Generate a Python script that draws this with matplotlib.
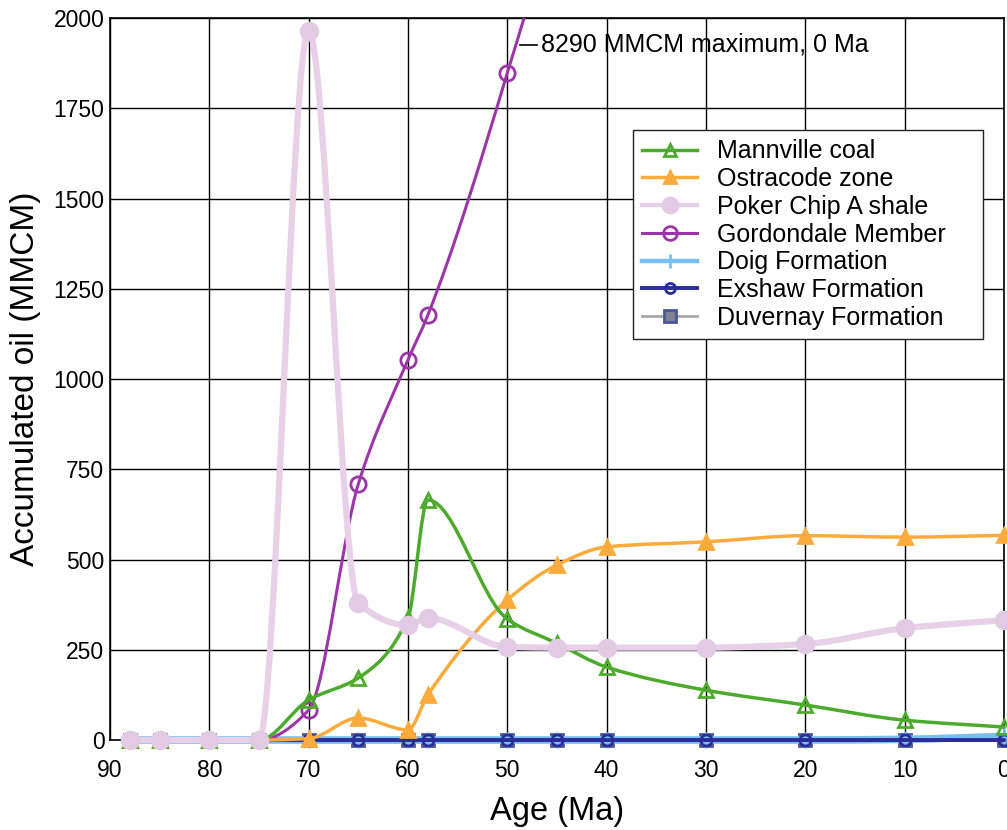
import numpy as np
import matplotlib
matplotlib.use("Agg")
import matplotlib.pyplot as plt
from matplotlib.path import Path
from matplotlib.patches import PathPatch, Rectangle
from matplotlib.lines import Line2D

plt.rcParams['font.family'] = ['Liberation Sans', 'DejaVu Sans']

# ages (Ma) at which each series is sampled
age = [88, 85, 80, 75, 70, 65, 60, 58, 50, 45, 40, 30, 20, 10, 0]

mannville = [0, 0, 0, 0, 111, 172, 338, 665, 335, 268, 202, 138, 97, 55, 36]
ostracode = [0, 0, 0, 0, 4, 61, 28, 125, 388, 485, 535, 549, 566, 562, 567]
poker_chip = [0, 0, 0, 0, 1965, 379, 318, 338, 258, 256, 256, 256, 266, 310, 332]
gordondale = [0, 0, 0, 0, 83, 709, 1053, 1177, 1848, 2350, 3300, 4800, 6300, 7500, 8290]
doig = [0, 0, 0, 0, 0, 0, 0, 0, 0, 0, 0, 0, 0, 2, 10]
exshaw = [0, 0, 0, 0, 0, 0, 0, 0, 0, 0, 0, 0, 0, 0, 0]
duvernay = [0, 0, 0, 0, 0, 0, 0, 0, 0, 0, 0, 0, 0, 0, 0]

note = "8290 MMCM maximum, 0 Ma"


def smooth_path(xs, ys):
    # smoothed line through the points: cubic bezier segments with
    # monotone (pchip-like) tangents so the curve doesn't overshoot
    x = np.asarray(xs, float)
    y = np.asarray(ys, float)
    n = len(x)
    h = np.diff(x)
    d = np.diff(y) / h
    m = np.zeros(n)
    m[0], m[-1] = d[0], d[-1]
    for k in range(1, n - 1):
        if d[k - 1] * d[k] > 0:
            w1 = 2 * h[k] + h[k - 1]
            w2 = h[k] + 2 * h[k - 1]
            m[k] = (w1 + w2) / (w1 / d[k - 1] + w2 / d[k])
    verts = [(x[0], y[0])]
    codes = [Path.MOVETO]
    for k in range(n - 1):
        verts += [(x[k] + h[k] / 3, y[k] + m[k] * h[k] / 3),
                  (x[k + 1] - h[k] / 3, y[k + 1] - m[k + 1] * h[k] / 3),
                  (x[k + 1], y[k + 1])]
        codes += [Path.CURVE4] * 3
    return Path(verts, codes)


fig = plt.figure(figsize=(10.07, 8.30), dpi=100)
ax = fig.add_axes([0.1092, 0.1084, 0.8878, 0.8699])
ax.set_xlim(90, 0)
ax.set_ylim(0, 2000)

# clip at the top of the plot but let the zero lines show full width
clip = Rectangle((-0.01, -0.05), 1.02, 1.05, transform=ax.transAxes,
                 facecolor='none', edgecolor='none')
ax.add_patch(clip)

series = [
    # name, values, color, lw, marker, ms, face, edge
    ("Duvernay Formation", duvernay, '#a8a8a8', 2.0, 's', 9, '#7e8494', '#4a5a9a'),
    ("Doig Formation", doig, '#78bff0', 5.5, '+', 11, '#78bff0', '#78bff0'),
    ("Exshaw Formation", exshaw, '#2b2c98', 2.8, 'o', 8, 'none', '#2b2c98'),
    ("Gordondale Member", gordondale, '#9b36a8', 2.2, 'o', 11, 'none', '#9b36a8'),
    ("Ostracode zone", ostracode, '#fbab3c', 2.5, '^', 10, '#fbab3c', '#fbab3c'),
    ("Mannville coal", mannville, '#4cab2c', 2.5, '^', 10, 'none', '#4cab2c'),
    ("Poker Chip A shale", poker_chip, '#e7d0e8', 4.5, 'o', 12, '#e2cae4', '#e2cae4'),
]

handles = {}
for z, (name, vals, col, lw, mk, ms, fc, ec) in enumerate(series):
    patch = PathPatch(smooth_path(age, vals), facecolor='none', edgecolor=col,
                      lw=lw, zorder=3 + z, capstyle='round', joinstyle='round')
    ax.add_patch(patch)
    patch.set_clip_path(clip)
    pts = [(a, v) for a, v in zip(age, vals) if v <= 2000]
    ax.plot([a for a, v in pts], [v for a, v in pts], linestyle='none',
            marker=mk, ms=ms, mfc=fc, mec=ec, mew=2, zorder=3.5 + z,
            clip_on=False)
    handles[name] = Line2D([], [], color=col, lw=min(lw, 3.2), marker=mk,
                           ms=ms * 0.9, mfc=fc, mec=ec, mew=2)

order = ["Mannville coal", "Ostracode zone", "Poker Chip A shale",
         "Gordondale Member", "Doig Formation", "Exshaw Formation",
         "Duvernay Formation"]
leg = ax.legend([handles[k] for k in order], order, loc='upper left',
                bbox_to_anchor=(0.585, 0.0, 0.3915, 0.845), mode='expand',
                fontsize=18, frameon=True,
                fancybox=False, framealpha=1, edgecolor='#222222',
                handlelength=2.2, handletextpad=0.8, labelspacing=0.15,
                borderpad=0.38, borderaxespad=0)
leg.get_frame().set_linewidth(1.0)
leg.set_zorder(20)

# leader line and note for the Gordondale maximum
ax.plot([48.75, 47.0], [1926, 1926], color='black', lw=1.2, zorder=12)
ax.text(46.6, 1926, note, fontsize=18, va='center', ha='left', zorder=12)

ax.set_xticks(np.arange(90, -1, -10))
ax.set_yticks(np.arange(0, 2001, 250))
ax.grid(True, color='black', lw=1.0)
ax.set_axisbelow(True)
ax.tick_params(length=0, labelsize=16.5)
ax.tick_params(axis='x', pad=14)
ax.tick_params(axis='y', pad=4)
for s in ax.spines.values():
    s.set_color('black')
    s.set_linewidth(1.2)

ax.set_xlabel("Age (Ma)", fontsize=23.5, labelpad=10)
ax.set_ylabel("Accumulated oil (MMCM)", fontsize=24, labelpad=9)

fig.savefig("out.png", dpi=100)
